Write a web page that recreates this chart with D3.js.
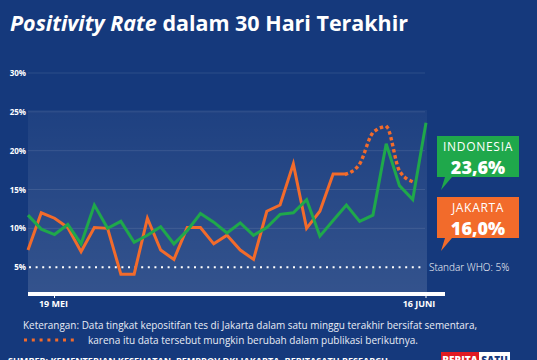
<!DOCTYPE html>
<html><head><meta charset="utf-8">
<script src="https://cdn.jsdelivr.net/npm/d3@7"></script>
<style>
html,body{margin:0;padding:0;background:#15397c;}
svg{display:block;}
text{font-family:"Open Sans",sans-serif;}
</style></head>
<body><svg id="c" width="537" height="360"></svg>
<script>
const startDate = "2021-05-17";
const indonesia = [11.7,9.9,9.2,10.5,8.0,13.0,10.0,10.9,8.2,9.1,10.2,8.0,9.7,11.9,10.8,9.4,10.7,9.1,10.1,11.8,12.0,13.7,9.0,11.0,13.0,10.9,11.7,20.9,15.5,13.7,23.6];
const jakarta = [7.2,12.0,11.3,10.1,7.0,10.1,10.0,4.1,4.1,11.3,7.2,6.0,10.1,10.1,8.0,9.1,7.2,6.0,12.2,13.0,18.3,10.0,12.2,17.0,17.0,18.3,22.3,23.1,17.4,16.0];
const provisionalFrom = 24;
const yTicks = [5,10,15,20,25,30];
const xTickDates = ["2021-05-19","2021-06-16"];
const xTickLabels = ["19 MEI","16 JUNI"];
const whoLevel = 5;

const svg = d3.select("#c");
const W = 537, H = 360;
svg.append("rect").attr("width",W).attr("height",H).attr("fill","#15397c");

const parse = d3.timeParse("%Y-%m-%d");
const d0 = parse(startDate);
const dayAt = i => d3.timeDay.offset(d0, i);
const x = d3.scaleTime().domain([dayAt(0), dayAt(30)]).range([28,426]);
const y = d3.scaleLinear().domain([0,30]).range([306,73]);

// lighter plot panel
const defs = svg.append("defs");
const g = defs.append("linearGradient").attr("id","pg").attr("x1",0).attr("y1",0).attr("x2",0).attr("y2",1);
g.append("stop").attr("offset","0%").attr("stop-color","#fff").attr("stop-opacity",0.04);
g.append("stop").attr("offset","100%").attr("stop-color","#fff").attr("stop-opacity",0.13);
svg.append("rect").attr("x",x(dayAt(0))).attr("y",110).attr("width",x(dayAt(30))-x(dayAt(0))+1).attr("height",182).attr("fill","url(#pg)");

// title
const title = svg.append("text").attr("x",10).attr("y",31).attr("fill","#fff")
  .attr("font-size",21).attr("font-weight",700).attr("textLength",398).attr("lengthAdjust","spacingAndGlyphs");
title.append("tspan").attr("font-style","italic").text("Positivity Rate");
title.append("tspan").text(" dalam 30 Hari Terakhir");

// gridlines
svg.append("g").selectAll("line").data(yTicks.filter(t=>t!==whoLevel)).join("line")
  .attr("x1",28).attr("x2",425).attr("y1",d=>y(d)).attr("y2",d=>y(d))
  .attr("stroke","#ffffff").attr("stroke-opacity",0.1).attr("stroke-width",1);

// y labels
svg.append("g").selectAll("text").data(yTicks).join("text")
  .attr("x",26).attr("y",d=>y(d)+3).attr("text-anchor","end")
  .attr("fill","#fff").attr("font-size",8).attr("font-weight",700)
  .text(d=>d+"%");

// WHO line
svg.append("line").attr("x1",29).attr("x2",424).attr("y1",y(whoLevel)).attr("y2",y(whoLevel))
  .attr("stroke","#fff").attr("stroke-width",2).attr("stroke-dasharray","2,4.6");
svg.append("text").attr("x",429).attr("y",y(whoLevel)+3.5).attr("fill","#fff")
  .attr("font-size",10).attr("font-family","'Noto Sans',sans-serif").attr("font-weight",300).text("Standar WHO: 5%");

// lines
const line = d3.line().x((d,i)=>x(dayAt(d.i))).y(d=>y(d.v));
const jk = jakarta.map((v,i)=>({i,v}));
const idn = indonesia.map((v,i)=>({i,v}));
svg.append("path").datum(jk.slice(0,provisionalFrom+1)).attr("d",line)
  .attr("fill","none").attr("stroke","#f26b2b").attr("stroke-width",3).attr("stroke-linejoin","miter");
svg.append("path").datum(jk.slice(provisionalFrom)).attr("d",line.curve(d3.curveMonotoneX))
  .attr("fill","none").attr("stroke","#f26b2b").attr("stroke-width",3.4).attr("stroke-linecap","square").attr("stroke-dasharray","0.1,6");
line.curve(d3.curveLinear);
svg.append("path").datum(idn).attr("d",line)
  .attr("fill","none").attr("stroke","#1fa84b").attr("stroke-width",3).attr("stroke-linejoin","miter");

// x axis bar
svg.append("rect").attr("x",28).attr("y",292).attr("width",417).attr("height",4).attr("fill","#fff");
const xt = xTickDates.map(parse);
svg.append("g").selectAll("line").data(xt).join("line")
  .attr("x1",d=>x(d)).attr("x2",d=>x(d)).attr("y1",296).attr("y2",298).attr("stroke","#fff").attr("stroke-width",1);
svg.append("g").selectAll("text").data(xt).join("text")
  .attr("x",(d,i)=> i===0 ? x(d)-1 : x(d)-7).attr("y",307).attr("text-anchor","middle")
  .attr("fill","#fff").attr("font-size",9).attr("font-weight",700)
  .text((d,i)=>xTickLabels[i]);

// callouts
function callout(yTop, color, name, val){
  const gg = svg.append("g");
  gg.append("path").attr("d",`M437,${yTop} H519 V${yTop+41} H452 L441,${yTop+54} L445,${yTop+41} H437 Z`).attr("fill",color);
  gg.append("text").attr("x",478).attr("y",yTop+14.5).attr("text-anchor","middle").attr("fill","#fff")
    .attr("font-size",12).attr("letter-spacing",0.7).attr("font-weight",400).text(name);
  gg.append("text").attr("x",478).attr("y",yTop+37.5).attr("text-anchor","middle").attr("fill","#fff")
    .attr("font-size",18).attr("font-weight",800).text(val);
}
const fmt = v => d3.format(".1f")(v).replace(".",",")+"%";
callout(136,"#1fa84b","INDONESIA",fmt(indonesia[indonesia.length-1]));
callout(197,"#f26b2b","JAKARTA",fmt(jakarta[jakarta.length-1]));

// note
svg.append("text").attr("x",23).attr("y",329).attr("fill","#e8ecf5").attr("font-size",10).attr("font-weight",400)
  .attr("textLength",454).attr("lengthAdjust","spacingAndGlyphs")
  .text("Keterangan:  Data tingkat kepositifan tes di Jakarta dalam satu minggu terakhir bersifat sementara,");
svg.append("line").attr("x1",24).attr("x2",78).attr("y1",340).attr("y2",340)
  .attr("stroke","#f26b2b").attr("stroke-width",3).attr("stroke-dasharray","3,4.8");
svg.append("text").attr("x",88).attr("y",343.5).attr("fill","#e8ecf5").attr("font-size",10)
  .attr("textLength",330).attr("lengthAdjust","spacingAndGlyphs")
  .text("karena itu data tersebut mungkin berubah dalam publikasi berikutnya.");

// source (cut off at bottom edge, as in the original)
svg.append("text").attr("x",8).attr("y",364).attr("fill","#fff").attr("font-size",9).attr("font-weight",700)
  .attr("textLength",380).attr("lengthAdjust","spacingAndGlyphs")
  .text("SUMBER: KEMENTERIAN KESEHATAN, PEMPROV DKI JAKARTA, BERITASATU RESEARCH");
svg.append("rect").attr("x",441).attr("y",352).attr("width",38).attr("height",10).attr("fill","#e11b22");
svg.append("rect").attr("x",479).attr("y",352).attr("width",31).attr("height",10).attr("fill","#fff");
svg.append("text").attr("x",460).attr("y",364).attr("text-anchor","middle").attr("fill","#fff").attr("font-size",10).attr("font-weight",800).text("BERITA");
svg.append("text").attr("x",494.5).attr("y",364).attr("text-anchor","middle").attr("fill","#15397c").attr("font-size",10).attr("font-weight",800).text("SATU");
</script></body></html>
